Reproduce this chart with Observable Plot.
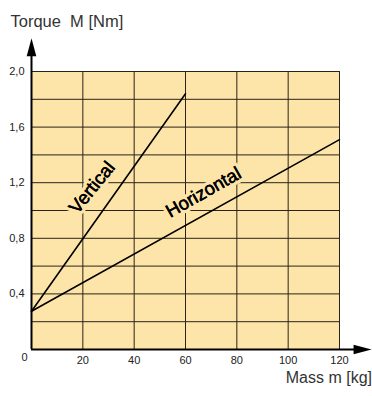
<!DOCTYPE html>
<html><head><meta charset="utf-8">
<script src="https://cdn.jsdelivr.net/npm/d3@7"></script>
<script src="https://cdn.jsdelivr.net/npm/@observablehq/plot@0.6"></script>
<style>body{margin:0;background:#fff;} svg{display:block;}</style>
</head><body>
<div id="chart"></div>
<script>
const massTicks = [20, 40, 60, 80, 100, 120];
const torqueTicks = [0.4, 0.8, 1.2, 1.6, 2.0];
const gridXLines = [20, 40, 60, 80, 100, 120];
const gridYLines = [0.2, 0.4, 0.6, 0.8, 1.0, 1.2, 1.4, 1.6, 1.8, 2.0];
const verticalMass = [0, 60];
const verticalTorque = [0.275, 1.84];
const horizontalMass = [0, 120];
const horizontalTorque = [0.275, 1.51];
const curveLabels = ["Vertical", "Horizontal"];
const labelMass = [23.6, 67.0];
const labelTorque = [1.165, 1.13];
const labelAngle = [-51, -29.5];
const axisTipX = 132.5;
const axisTipY = 2.24;

const font = "Liberation Sans, Arial, Helvetica, sans-serif";
const fillColor = "#fde5a9";
const arrowHead = {draw(ctx) { ctx.moveTo(0, 0); ctx.lineTo(-4.8, 18); ctx.lineTo(4.8, 18); ctx.closePath(); }};

const vert = verticalMass.map((m, i) => ({m, t: verticalTorque[i]}));
const horiz = horizontalMass.map((m, i) => ({m, t: horizontalTorque[i]}));
const labels = curveLabels.map((l, i) => ({l, m: labelMass[i], t: labelTorque[i], a: labelAngle[i]}));

const chart = Plot.plot({
  width: 372, height: 396,
  marginLeft: 31, marginRight: 33, marginTop: 71, marginBottom: 47,
  style: {fontFamily: font, background: "#fff", overflow: "visible"},
  x: {domain: [0, 120]},
  y: {domain: [0, 2.0]},
  marks: [
    Plot.frame({fill: fillColor, stroke: null}),
    Plot.gridX(gridXLines, {stroke: "#2a2418", strokeOpacity: 1, strokeWidth: 1}),
    Plot.gridY(gridYLines, {stroke: "#2a2418", strokeOpacity: 1, strokeWidth: 1}),
    Plot.text(labels, {x: "m", y: "t", text: "l", rotate: "a", fontSize: 18.5, fill: "#000", stroke: fillColor, strokeWidth: 7, fontFamily: font}),
    Plot.text(labels, {x: "m", y: "t", text: "l", rotate: "a", fontSize: 18.5, fill: "#000", stroke: "#000", strokeWidth: 0.4, fontFamily: font}),
    Plot.line(vert, {x: "m", y: "t", stroke: "#000", strokeWidth: 1.6}),
    Plot.line(horiz, {x: "m", y: "t", stroke: "#000", strokeWidth: 1.6}),
    Plot.ruleX([0], {y1: 0, y2: axisTipY - 0.05, stroke: "#000", strokeWidth: 2}),
    Plot.ruleY([0], {x1: 0, x2: axisTipX - 2, stroke: "#000", strokeWidth: 2}),
    Plot.dot([{x: 0, y: axisTipY}], {x: "x", y: "y", symbol: arrowHead, fill: "#000", stroke: null, r: 5}),
    Plot.dot([{x: axisTipX, y: 0}], {x: "x", y: "y", symbol: arrowHead, fill: "#000", stroke: null, r: 5, rotate: 90}),
    Plot.axisX(massTicks, {tickSize: 0, tickPadding: 7, fontSize: 11, label: null, fill: "#222"}),
    Plot.axisY(torqueTicks, {tickSize: 0, tickPadding: 7, fontSize: 11, label: null, fill: "#222", tickFormat: d => d.toFixed(1).replace(".", ",")}),
    Plot.text(["0"], {frameAnchor: "bottom-left", dx: -10, dy: 11, fontSize: 11, fill: "#222"}),
    Plot.text(["Torque  M [Nm]"], {frameAnchor: "top-left", textAnchor: "start", dx: -21, dy: -56, fontSize: 16.5, fill: "#333"}),
    Plot.text(["Mass m [kg]"], {frameAnchor: "bottom-right", textAnchor: "end", dx: 32.5, dy: 33, fontSize: 16, fill: "#333"})
  ]
});
document.getElementById("chart").append(chart);
</script>
</body></html>
